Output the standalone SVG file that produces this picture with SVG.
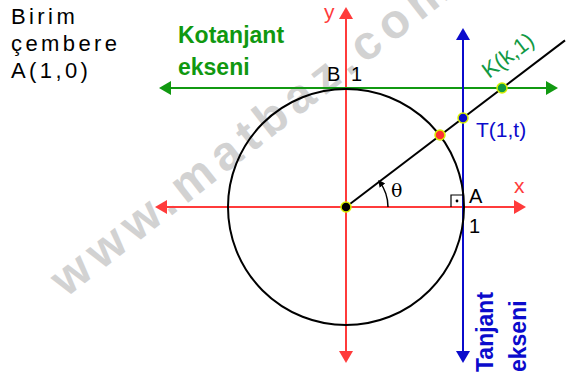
<svg xmlns="http://www.w3.org/2000/svg" width="570" height="374" viewBox="0 0 570 374">
<style>
text{font-family:"Liberation Sans",Arial,sans-serif}
.red{stroke:#ff3b3b;stroke-width:2;fill:none}
.grn{stroke:#119911;stroke-width:2;fill:none}
.blu{stroke:#0b0bcc;stroke-width:2;fill:none}
.blk{stroke:#000;stroke-width:2;fill:none}
.lbl{font-size:20px;fill:#000}
.wm{font-size:48px;font-weight:bold;fill:#d2d2d2;letter-spacing:7px}
.dot{stroke:#d8f000;stroke-width:1.5}
.intro{font-size:22px;fill:#000;letter-spacing:3.4px}
</style>
<defs>
<marker id="ar" viewBox="0 0 12 14" refX="2" refY="7" markerWidth="12" markerHeight="14" markerUnits="userSpaceOnUse" orient="auto-start-reverse"><path d="M0,0L12,7L0,14z" fill="#ff3b3b"/></marker>
<marker id="ag" viewBox="0 0 12 14" refX="2" refY="7" markerWidth="12" markerHeight="14" markerUnits="userSpaceOnUse" orient="auto-start-reverse"><path d="M0,0L12,7L0,14z" fill="#119911"/></marker>
<marker id="ab" viewBox="0 0 12 14" refX="2" refY="7" markerWidth="12" markerHeight="14" markerUnits="userSpaceOnUse" orient="auto-start-reverse"><path d="M0,0L12,7L0,14z" fill="#0b0bcc"/></marker>
<marker id="ak" viewBox="0 0 7 7" refX="5" refY="3.5" markerWidth="7" markerHeight="7" markerUnits="userSpaceOnUse" orient="auto"><path d="M0,0L7,3.5L0,7z" fill="#000"/></marker>
</defs>
<g id="watermark"><text class="wm" transform="translate(66,298) rotate(-38)">www.matbaz.com</text></g>
<g id="connectors">
<line class="red" x1="165" y1="207" x2="516" y2="207" marker-start="url(#ar)" marker-end="url(#ar)"/>
<line class="red" x1="346" y1="17" x2="346" y2="353" marker-start="url(#ar)" marker-end="url(#ar)"/>
<line class="grn" x1="169" y1="88" x2="548" y2="88" marker-start="url(#ag)" marker-end="url(#ag)"/>
<line class="blu" x1="463" y1="38" x2="463" y2="353" marker-start="url(#ab)" marker-end="url(#ab)"/>
<line class="blk" x1="346" y1="207" x2="565" y2="40.4"/>
<path d="M388,207 A42,42 0 0 0 379.4,181.6" stroke="#000" stroke-width="1.5" fill="none" marker-end="url(#ak)"/>
<path d="M451,207V195H463" stroke="#000" stroke-width="1.2" fill="none"/>
<circle cx="457" cy="201" r="1.4" fill="#000"/>
</g>
<g id="circle"><circle class="blk" cx="346" cy="207" r="118"/></g>
<g id="dots">
<circle class="dot" cx="346" cy="207" r="5" fill="#000"/>
<circle class="dot" cx="440" cy="135" r="5" fill="#ff3030"/>
<circle class="dot" cx="463" cy="118" r="5" fill="#0b0bcc"/>
<circle class="dot" cx="502" cy="88" r="5" fill="#119944"/>
</g>
<g id="labels">
<text x="11" y="24" class="intro">Birim</text>
<text x="11" y="51" class="intro">çembere</text>
<text x="11" y="78" class="intro">A(1,0)</text>
<text x="178" y="43" style="font-size:23px;font-weight:bold;fill:#109810">Kotanjant</text>
<text x="178" y="75" style="font-size:23px;font-weight:bold;fill:#109810">ekseni</text>
<text x="324" y="18.5" style="font-size:21px;fill:#ff3b3b">y</text>
<text x="514" y="193" style="font-size:21px;fill:#ff3b3b">x</text>
<text x="327" y="81" class="lbl">B <tspan x="351">1</tspan></text>
<text x="469" y="203" class="lbl">A</text>
<text x="469" y="233" class="lbl">1</text>
<text x="391" y="197" style="font-size:19px;font-family:'DejaVu Serif',serif;fill:#000">θ</text>
<text x="476" y="137" style="font-size:21px;fill:#0b0bcc">T(1,t)</text>
<text transform="translate(489,79) rotate(-37)" style="font-size:22px;fill:#119944">K(k,1)</text>
<text transform="translate(493,372) rotate(-90)" style="font-size:23px;font-weight:bold;fill:#0b0bcc">Tanjant</text>
<text transform="translate(526,372) rotate(-90)" style="font-size:23px;font-weight:bold;fill:#0b0bcc">ekseni</text>
</g>
</svg>
